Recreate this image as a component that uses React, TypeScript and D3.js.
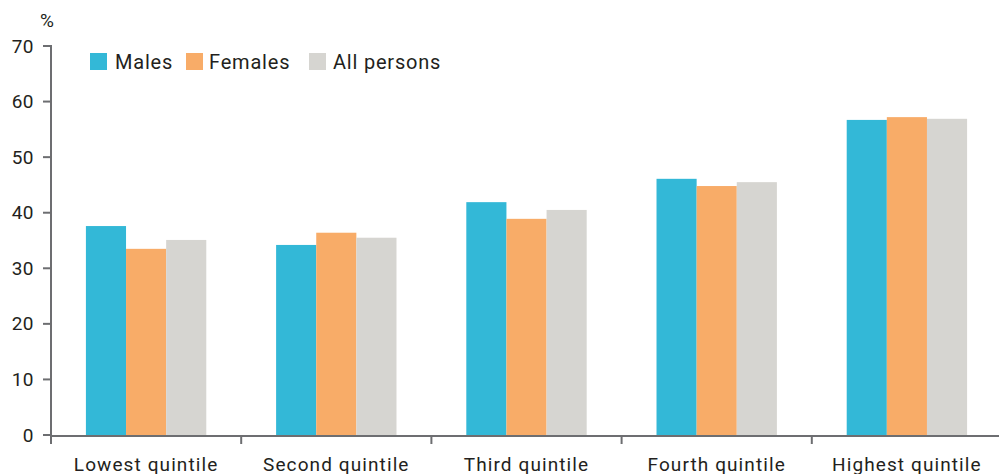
import React from "react";
import * as d3 from "d3";

const categories = ["Lowest quintile", "Second quintile", "Third quintile", "Fourth quintile", "Highest quintile"];
const seriesNames = ["Males", "Females", "All persons"];
const males = [37.6, 34.2, 41.9, 46.1, 56.7];
const females = [33.5, 36.4, 38.9, 44.8, 57.2];
const allPersons = [35.1, 35.5, 40.5, 45.5, 56.9];
const yTicks = [0, 10, 20, 30, 40, 50, 60, 70];
const colors = ["#33b8d7", "#f8ac68", "#d6d5d1"];

const W = 999;
const H = 474;
const axisColor = "#6d6e71";
const textColor = "#231f20";
const font = "Roboto, 'DejaVu Sans', sans-serif";

export default function App() {
  const values = [males, females, allPersons];
  const y = d3.scaleLinear().domain([0, 70]).range([435, 46]);
  const x = d3.scaleBand<string>().domain(categories).range([51, 1002]).padding(0);
  const xi = d3
    .scaleBand<string>()
    .domain(seriesNames)
    .range([0, x.bandwidth()])
    .paddingInner(0)
    .paddingOuter(0.87);
  const boundaries = categories.map((c) => x(c) as number);

  return (
    <svg
      width={W}
      height={H}
      style={{ position: "absolute", left: 0, top: 0, background: "#fff" }}
      fontFamily={font}
    >
      {categories.map((c, ci) =>
        seriesNames.map((s, si) => {
          const v = values[si][ci];
          return (
            <rect
              key={c + s}
              x={(x(c) as number) + (xi(s) as number)}
              y={y(v)}
              width={xi.bandwidth()}
              height={y(0) - y(v)}
              fill={colors[si]}
            />
          );
        })
      )}
      {/* Y axis */}
      <line x1={51} x2={51} y1={y(70) - 1} y2={y(0) + 1} stroke={axisColor} strokeWidth={2} />
      {yTicks.map((t) => (
        <g key={t}>
          <line x1={43} x2={51} y1={y(t)} y2={y(t)} stroke={axisColor} strokeWidth={2} />
          <text
            x={34}
            y={y(t)}
            textAnchor="end"
            dominantBaseline="central"
            fontSize={19}
            letterSpacing={0.5}
            fill={textColor}
          >
            {t}
          </text>
        </g>
      ))}
      <text x={47} y={20} textAnchor="middle" dominantBaseline="central" fontSize={19} fill={textColor}>
        %
      </text>
      {/* X axis */}
      <line x1={50} x2={W} y1={y(0) + 1} y2={y(0) + 1} stroke={axisColor} strokeWidth={2} />
      {boundaries.map((b, i) => (
        <line key={i} x1={b} x2={b} y1={y(0)} y2={y(0) + 9} stroke={axisColor} strokeWidth={2} />
      ))}
      {categories.map((c) => (
        <text
          key={c}
          x={(x(c) as number) + x.bandwidth() / 2}
          y={471}
          textAnchor="middle"
          fontSize={19}
          letterSpacing={1.1}
          fill={textColor}
        >
          {c}
        </text>
      ))}
      {/* Legend */}
      {[
        { swatch: 90, text: 115 },
        { swatch: 186, text: 209 },
        { swatch: 309, text: 333 },
      ].map((p, i) => (
        <g key={seriesNames[i]}>
          <rect x={p.swatch} y={53} width={17} height={17} fill={colors[i]} />
          <text x={p.text} y={62} dominantBaseline="central" fontSize={20} letterSpacing={0.8} fill={textColor}>
            {seriesNames[i]}
          </text>
        </g>
      ))}
    </svg>
  );
}
